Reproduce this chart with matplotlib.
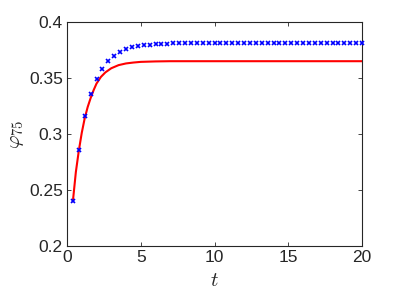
"""phi_75 versus t: simulation markers and model curve"""
import matplotlib
matplotlib.use('Agg')
import matplotlib.pyplot as plt

plt.rcParams['font.family'] = ['Liberation Sans', 'DejaVu Sans']
plt.rcParams['mathtext.fontset'] = 'cm'

# blue crosses, every 0.4 in t
t_pts = [0.4 * (i + 1) for i in range(50)]
phi_pts = [0.240, 0.286, 0.316, 0.336, 0.349, 0.358, 0.365, 0.370, 0.373, 0.3755,
           0.3775, 0.3787, 0.3793, 0.3799, 0.3803, 0.3806, 0.3808, 0.3809, 0.381, 0.381,
           0.381, 0.381, 0.381, 0.381, 0.381, 0.381, 0.381, 0.381, 0.381, 0.381,
           0.381, 0.381, 0.381, 0.381, 0.381, 0.381, 0.381, 0.381, 0.381, 0.381,
           0.381, 0.381, 0.381, 0.381, 0.381, 0.381, 0.381, 0.381, 0.381, 0.381]

# red curve, values
t_line = [0.4, 0.6, 0.8, 1.0, 1.2, 1.4, 1.6, 1.8, 2.0, 2.3, 2.6, 3.0, 3.5, 4.0,
          4.5, 5.0, 6.0, 7.0, 8.0, 10.0, 15.0, 20.0]
phi_line = [0.240, 0.266, 0.285, 0.301, 0.314, 0.324, 0.332, 0.339, 0.345, 0.351,
            0.355, 0.3587, 0.3615, 0.363, 0.3638, 0.3644, 0.3648, 0.365, 0.365,
            0.365, 0.365, 0.365]

xticks = [0, 5, 10, 15, 20]
yticks = [0.2, 0.25, 0.3, 0.35, 0.4]
ytick_labels = ['0.2', '0.25', '0.3', '0.35', '0.4']

fig = plt.figure(figsize=(3.99, 2.94), dpi=100)
ax = fig.add_axes([67 / 399, 1 - 246 / 294, 295 / 399, 224 / 294])

ax.plot(t_line, phi_line, color='red', linewidth=1.5, zorder=2)
ax.plot(t_pts, phi_pts, linestyle='none', marker='x', color='blue',
        markersize=3.5, markeredgewidth=1.2, zorder=3, clip_on=False)

ax.set_xlim(0, 20)
ax.set_ylim(0.2, 0.4)
ax.set_xticks(xticks)
ax.set_yticks(yticks)
ax.set_yticklabels(ytick_labels)

axis_color = '#262626'
for side in ['left', 'right', 'top', 'bottom']:
    ax.spines[side].set_color(axis_color)
    ax.spines[side].set_linewidth(0.8)
ax.tick_params(direction='in', length=3, width=0.6, colors=axis_color,
               top=True, right=True, labelsize=12.5, pad=3)

ax.set_xlabel('$t$', fontsize=15, color=axis_color, labelpad=4)
ax.set_ylabel(r'$\varphi_{75}$', fontsize=15, color=axis_color, labelpad=2)

plt.savefig('out.png', dpi=100)
